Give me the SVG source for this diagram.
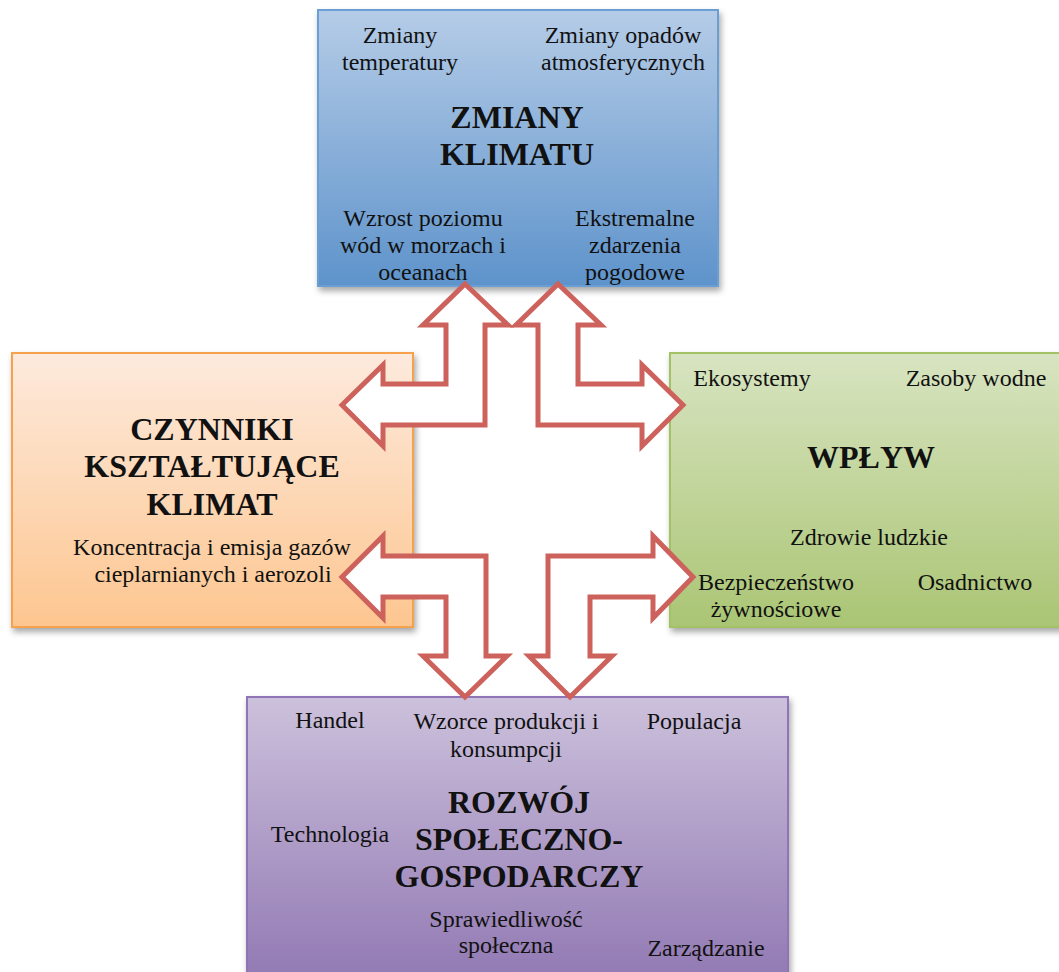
<svg xmlns="http://www.w3.org/2000/svg" width="1059" height="972" viewBox="0 0 1059 972">
<style>
.t{font-family:"Liberation Serif","Times New Roman",serif;font-size:24px;fill:#111;text-anchor:middle}
.b{font-family:"Liberation Serif","Times New Roman",serif;font-size:32px;font-weight:bold;fill:#111;text-anchor:middle}
.arrow{fill:#fff;stroke:#cd625d;stroke-width:5;stroke-linejoin:miter}
</style>
<defs>
<linearGradient id="gBlue" x1="0" y1="0" x2="0" y2="1"><stop offset="0" stop-color="#b5cce7"/><stop offset="1" stop-color="#5e93cb"/></linearGradient>
<linearGradient id="gOrange" x1="0" y1="0" x2="0" y2="1"><stop offset="0" stop-color="#fdeadd"/><stop offset="1" stop-color="#fdc690"/></linearGradient>
<linearGradient id="gGreen" x1="0" y1="0" x2="0" y2="1"><stop offset="0" stop-color="#d8e4c1"/><stop offset="1" stop-color="#aac574"/></linearGradient>
<linearGradient id="gPurple" x1="0" y1="0" x2="0" y2="1"><stop offset="0" stop-color="#ccc1dc"/><stop offset="1" stop-color="#9077b2"/></linearGradient>
<filter id="sh" x="-10%" y="-10%" width="130%" height="130%"><feDropShadow dx="2" dy="4" stdDeviation="3" flood-color="#000" flood-opacity="0.35"/></filter>
</defs>
<rect width="1059" height="972" fill="#fff"/>

<g id="zmiany-klimatu">
<rect x="318" y="10" width="400" height="276" fill="url(#gBlue)" stroke="#6b9fd5" stroke-width="2" filter="url(#sh)"/>
<text class="t" x="400" y="43">Zmiany</text>
<text class="t" x="400" y="70">temperatury</text>
<text class="t" x="623" y="43">Zmiany opadów</text>
<text class="t" x="623" y="70">atmosferycznych</text>
<text class="b" x="517" y="128">ZMIANY</text>
<text class="b" x="517" y="165">KLIMATU</text>
<text class="t" x="423" y="226">Wzrost poziomu</text>
<text class="t" x="423" y="253">wód w morzach i</text>
<text class="t" x="423" y="280">oceanach</text>
<text class="t" x="635" y="226">Ekstremalne</text>
<text class="t" x="635" y="253">zdarzenia</text>
<text class="t" x="635" y="280">pogodowe</text>
</g>

<g id="czynniki">
<rect x="12" y="353" width="401" height="274" fill="url(#gOrange)" stroke="#f6a24e" stroke-width="2" filter="url(#sh)"/>
<text class="b" x="212" y="440">CZYNNIKI</text>
<text class="b" x="212" y="477">KSZTAŁTUJĄCE</text>
<text class="b" x="212" y="515">KLIMAT</text>
<text class="t" x="212" y="555">Koncentracja i emisja gazów</text>
<text class="t" x="213" y="582">cieplarnianych i aerozoli</text>
</g>

<g id="wplyw">
<rect x="670" y="353" width="400" height="274" fill="url(#gGreen)" stroke="#a3c266" stroke-width="2" filter="url(#sh)"/>
<text class="t" x="752" y="386">Ekosystemy</text>
<text class="t" x="976" y="386">Zasoby wodne</text>
<text class="b" x="871" y="468">WPŁYW</text>
<text class="t" x="869" y="545">Zdrowie ludzkie</text>
<text class="t" x="776" y="590">Bezpieczeństwo</text>
<text class="t" x="776" y="617">żywnościowe</text>
<text class="t" x="975" y="590">Osadnictwo</text>
</g>

<g id="rozwoj">
<rect x="247" y="697" width="541" height="290" fill="url(#gPurple)" stroke="#8f75b5" stroke-width="2" filter="url(#sh)"/>
<text class="t" x="330" y="728">Handel</text>
<text class="t" x="506" y="729">Wzorce produkcji i</text>
<text class="t" x="506" y="757">konsumpcji</text>
<text class="t" x="694" y="729">Populacja</text>
<text class="t" x="330" y="842">Technologia</text>
<text class="b" x="519" y="813">ROZWÓJ</text>
<text class="b" x="519" y="850">SPOŁECZNO-</text>
<text class="b" x="519" y="887">GOSPODARCZY</text>
<text class="t" x="506" y="927">Sprawiedliwość</text>
<text class="t" x="506" y="953">społeczna</text>
<text class="t" x="706" y="956">Zarządzanie</text>
</g>

<g id="connectors">
<polygon class="arrow" points="465,284 508,325 485,325 485,425 383,425 383,446 342,405 383,365 383,384 446,384 446,325 423,325"/>
<polygon class="arrow" points="558,284 601,325 578,325 578,384 642,384 642,365 683,405 642,446 642,425 538,425 538,325 516,325"/>
<polygon class="arrow" points="342,577 383,536 383,556 486,556 486,656 507,656 465,697 423,656 446,656 446,597 383,597 383,618"/>
<polygon class="arrow" points="693,577 653,536 653,556 548,556 548,656 529,656 570,697 612,656 590,656 590,597 653,597 653,618"/>
</g>
</svg>
